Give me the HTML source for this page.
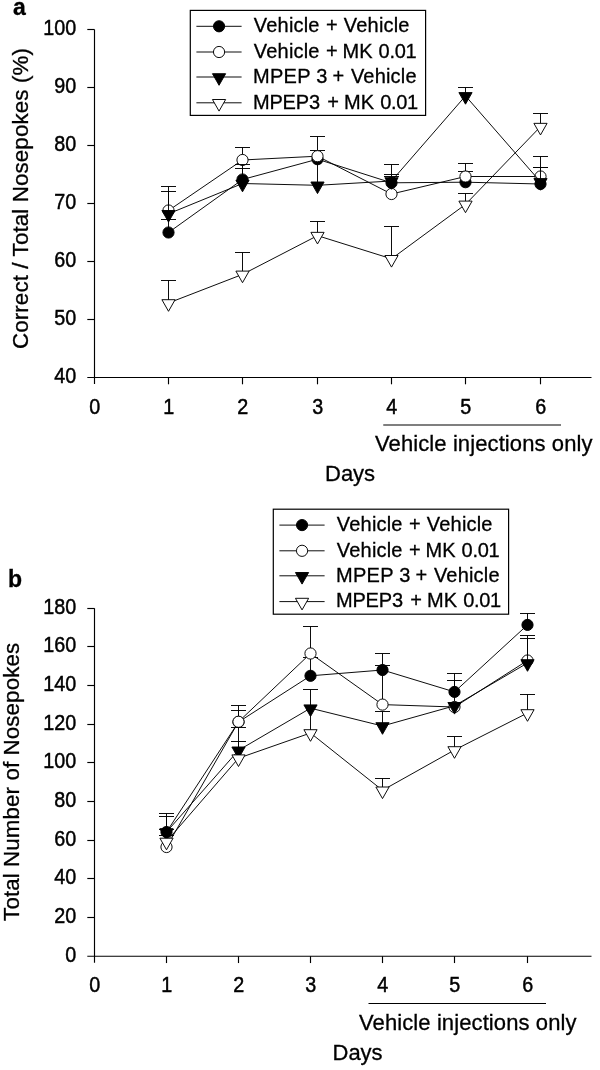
<!DOCTYPE html>
<html><head><meta charset="utf-8"><title>Figure</title>
<style>
html,body{margin:0;padding:0;background:#fff;}
svg text{stroke:#000;stroke-width:0.3px;}
svg{display:block;will-change:transform;filter:grayscale(1);font-family:"Liberation Sans", Arial, sans-serif;fill:#000;}
</style></head>
<body>
<svg width="600" height="1070" viewBox="0 0 600 1070">
<rect x="0" y="0" width="600" height="1070" fill="#fff"/>
<line x1="94.50" y1="29.50" x2="94.50" y2="384.00" stroke="#000" stroke-width="1.15"/>
<line x1="87.30" y1="377.50" x2="591.50" y2="377.50" stroke="#000" stroke-width="1.15"/>
<line x1="87.30" y1="29.50" x2="94.50" y2="29.50" stroke="#000" stroke-width="1.15"/>
<text transform="translate(76.20,35.30) scale(0.94,1.06)" font-size="21" text-anchor="end" style="stroke-width:0.45px">100</text>
<line x1="87.30" y1="87.50" x2="94.50" y2="87.50" stroke="#000" stroke-width="1.15"/>
<text transform="translate(76.20,93.30) scale(0.94,1.06)" font-size="21" text-anchor="end" style="stroke-width:0.45px">90</text>
<line x1="87.30" y1="145.50" x2="94.50" y2="145.50" stroke="#000" stroke-width="1.15"/>
<text transform="translate(76.20,151.30) scale(0.94,1.06)" font-size="21" text-anchor="end" style="stroke-width:0.45px">80</text>
<line x1="87.30" y1="203.50" x2="94.50" y2="203.50" stroke="#000" stroke-width="1.15"/>
<text transform="translate(76.20,209.30) scale(0.94,1.06)" font-size="21" text-anchor="end" style="stroke-width:0.45px">70</text>
<line x1="87.30" y1="261.50" x2="94.50" y2="261.50" stroke="#000" stroke-width="1.15"/>
<text transform="translate(76.20,267.30) scale(0.94,1.06)" font-size="21" text-anchor="end" style="stroke-width:0.45px">60</text>
<line x1="87.30" y1="319.50" x2="94.50" y2="319.50" stroke="#000" stroke-width="1.15"/>
<text transform="translate(76.20,325.30) scale(0.94,1.06)" font-size="21" text-anchor="end" style="stroke-width:0.45px">50</text>
<text transform="translate(76.20,383.30) scale(0.94,1.06)" font-size="21" text-anchor="end" style="stroke-width:0.45px">40</text>
<text transform="translate(94.80,413.50) scale(0.94,1.06)" font-size="21" text-anchor="middle" style="stroke-width:0.45px">0</text>
<line x1="168.50" y1="377.50" x2="168.50" y2="384.30" stroke="#000" stroke-width="1.15"/>
<text transform="translate(168.80,413.50) scale(0.94,1.06)" font-size="21" text-anchor="middle" style="stroke-width:0.45px">1</text>
<line x1="242.50" y1="377.50" x2="242.50" y2="384.30" stroke="#000" stroke-width="1.15"/>
<text transform="translate(242.80,413.50) scale(0.94,1.06)" font-size="21" text-anchor="middle" style="stroke-width:0.45px">2</text>
<line x1="317.50" y1="377.50" x2="317.50" y2="384.30" stroke="#000" stroke-width="1.15"/>
<text transform="translate(317.80,413.50) scale(0.94,1.06)" font-size="21" text-anchor="middle" style="stroke-width:0.45px">3</text>
<line x1="391.50" y1="377.50" x2="391.50" y2="384.30" stroke="#000" stroke-width="1.15"/>
<text transform="translate(391.80,413.50) scale(0.94,1.06)" font-size="21" text-anchor="middle" style="stroke-width:0.45px">4</text>
<line x1="465.50" y1="377.50" x2="465.50" y2="384.30" stroke="#000" stroke-width="1.15"/>
<text transform="translate(465.80,413.50) scale(0.94,1.06)" font-size="21" text-anchor="middle" style="stroke-width:0.45px">5</text>
<line x1="540.50" y1="377.50" x2="540.50" y2="384.30" stroke="#000" stroke-width="1.15"/>
<text transform="translate(540.80,413.50) scale(0.94,1.06)" font-size="21" text-anchor="middle" style="stroke-width:0.45px">6</text>
<polyline points="168.50,232.50 242.50,179.50 317.50,159.20 391.50,182.80 465.50,182.20 540.50,184.00" fill="none" stroke="#000" stroke-width="0.95"/>
<line x1="168.50" y1="232.50" x2="168.50" y2="219.50" stroke="#000" stroke-width="0.95"/>
<line x1="161.00" y1="219.50" x2="176.00" y2="219.50" stroke="#000" stroke-width="0.95"/>
<line x1="242.50" y1="179.50" x2="242.50" y2="168.50" stroke="#000" stroke-width="0.95"/>
<line x1="235.00" y1="168.50" x2="250.00" y2="168.50" stroke="#000" stroke-width="0.95"/>
<line x1="317.50" y1="159.20" x2="317.50" y2="150.50" stroke="#000" stroke-width="0.95"/>
<line x1="310.00" y1="150.50" x2="325.00" y2="150.50" stroke="#000" stroke-width="0.95"/>
<line x1="391.50" y1="182.80" x2="391.50" y2="176.50" stroke="#000" stroke-width="0.95"/>
<line x1="384.00" y1="176.50" x2="399.00" y2="176.50" stroke="#000" stroke-width="0.95"/>
<line x1="465.50" y1="182.20" x2="465.50" y2="171.50" stroke="#000" stroke-width="0.95"/>
<line x1="458.00" y1="171.50" x2="473.00" y2="171.50" stroke="#000" stroke-width="0.95"/>
<line x1="540.50" y1="184.00" x2="540.50" y2="167.50" stroke="#000" stroke-width="0.95"/>
<line x1="533.00" y1="167.50" x2="548.00" y2="167.50" stroke="#000" stroke-width="0.95"/>
<circle cx="168.50" cy="232.50" r="5.6" fill="#000" stroke="#000" stroke-width="0.95"/>
<circle cx="242.50" cy="179.50" r="5.6" fill="#000" stroke="#000" stroke-width="0.95"/>
<circle cx="317.50" cy="159.20" r="5.6" fill="#000" stroke="#000" stroke-width="0.95"/>
<circle cx="391.50" cy="182.80" r="5.6" fill="#000" stroke="#000" stroke-width="0.95"/>
<circle cx="465.50" cy="182.20" r="5.6" fill="#000" stroke="#000" stroke-width="0.95"/>
<circle cx="540.50" cy="184.00" r="5.6" fill="#000" stroke="#000" stroke-width="0.95"/>
<polyline points="168.50,210.50 242.50,160.00 317.50,156.20 391.50,194.00 465.50,176.50 540.50,176.50" fill="none" stroke="#000" stroke-width="0.95"/>
<line x1="168.50" y1="210.50" x2="168.50" y2="186.50" stroke="#000" stroke-width="0.95"/>
<line x1="161.00" y1="186.50" x2="176.00" y2="186.50" stroke="#000" stroke-width="0.95"/>
<line x1="242.50" y1="160.00" x2="242.50" y2="147.50" stroke="#000" stroke-width="0.95"/>
<line x1="235.00" y1="147.50" x2="250.00" y2="147.50" stroke="#000" stroke-width="0.95"/>
<line x1="317.50" y1="156.20" x2="317.50" y2="136.50" stroke="#000" stroke-width="0.95"/>
<line x1="310.00" y1="136.50" x2="325.00" y2="136.50" stroke="#000" stroke-width="0.95"/>
<line x1="391.50" y1="194.00" x2="391.50" y2="174.50" stroke="#000" stroke-width="0.95"/>
<line x1="384.00" y1="174.50" x2="399.00" y2="174.50" stroke="#000" stroke-width="0.95"/>
<line x1="465.50" y1="176.50" x2="465.50" y2="163.50" stroke="#000" stroke-width="0.95"/>
<line x1="458.00" y1="163.50" x2="473.00" y2="163.50" stroke="#000" stroke-width="0.95"/>
<line x1="540.50" y1="176.50" x2="540.50" y2="156.50" stroke="#000" stroke-width="0.95"/>
<line x1="533.00" y1="156.50" x2="548.00" y2="156.50" stroke="#000" stroke-width="0.95"/>
<circle cx="168.50" cy="210.50" r="5.6" fill="#fff" stroke="#000" stroke-width="0.95"/>
<circle cx="242.50" cy="160.00" r="5.6" fill="#fff" stroke="#000" stroke-width="0.95"/>
<circle cx="317.50" cy="156.20" r="5.6" fill="#fff" stroke="#000" stroke-width="0.95"/>
<circle cx="391.50" cy="194.00" r="5.6" fill="#fff" stroke="#000" stroke-width="0.95"/>
<circle cx="465.50" cy="176.50" r="5.6" fill="#fff" stroke="#000" stroke-width="0.95"/>
<circle cx="540.50" cy="176.50" r="5.6" fill="#fff" stroke="#000" stroke-width="0.95"/>
<polyline points="168.50,213.80 242.50,183.50 317.50,185.30 391.50,181.00 465.50,95.90 540.50,181.90" fill="none" stroke="#000" stroke-width="0.95"/>
<line x1="168.50" y1="213.80" x2="168.50" y2="191.50" stroke="#000" stroke-width="0.95"/>
<line x1="161.00" y1="191.50" x2="176.00" y2="191.50" stroke="#000" stroke-width="0.95"/>
<line x1="242.50" y1="183.50" x2="242.50" y2="164.50" stroke="#000" stroke-width="0.95"/>
<line x1="235.00" y1="164.50" x2="250.00" y2="164.50" stroke="#000" stroke-width="0.95"/>
<line x1="317.50" y1="185.30" x2="317.50" y2="163.50" stroke="#000" stroke-width="0.95"/>
<line x1="391.50" y1="181.00" x2="391.50" y2="164.50" stroke="#000" stroke-width="0.95"/>
<line x1="384.00" y1="164.50" x2="399.00" y2="164.50" stroke="#000" stroke-width="0.95"/>
<line x1="465.50" y1="95.90" x2="465.50" y2="87.50" stroke="#000" stroke-width="0.95"/>
<line x1="458.00" y1="87.50" x2="473.00" y2="87.50" stroke="#000" stroke-width="0.95"/>
<line x1="540.50" y1="181.90" x2="540.50" y2="167.50" stroke="#000" stroke-width="0.95"/>
<line x1="533.00" y1="167.50" x2="548.00" y2="167.50" stroke="#000" stroke-width="0.95"/>
<polygon points="161.90,210.50 175.10,210.50 168.50,222.10" fill="#000" stroke="#000" stroke-width="0.95" stroke-linejoin="miter"/>
<polygon points="235.90,180.20 249.10,180.20 242.50,191.80" fill="#000" stroke="#000" stroke-width="0.95" stroke-linejoin="miter"/>
<polygon points="310.90,182.00 324.10,182.00 317.50,193.60" fill="#000" stroke="#000" stroke-width="0.95" stroke-linejoin="miter"/>
<polygon points="384.90,177.70 398.10,177.70 391.50,189.30" fill="#000" stroke="#000" stroke-width="0.95" stroke-linejoin="miter"/>
<polygon points="458.90,92.60 472.10,92.60 465.50,104.20" fill="#000" stroke="#000" stroke-width="0.95" stroke-linejoin="miter"/>
<polygon points="533.90,178.60 547.10,178.60 540.50,190.20" fill="#000" stroke="#000" stroke-width="0.95" stroke-linejoin="miter"/>
<polyline points="168.50,303.00 242.50,274.40 317.50,235.65 391.50,258.80 465.50,204.40 540.50,126.65" fill="none" stroke="#000" stroke-width="0.95"/>
<line x1="168.50" y1="303.00" x2="168.50" y2="280.50" stroke="#000" stroke-width="0.95"/>
<line x1="161.00" y1="280.50" x2="176.00" y2="280.50" stroke="#000" stroke-width="0.95"/>
<line x1="242.50" y1="274.40" x2="242.50" y2="252.50" stroke="#000" stroke-width="0.95"/>
<line x1="235.00" y1="252.50" x2="250.00" y2="252.50" stroke="#000" stroke-width="0.95"/>
<line x1="317.50" y1="235.65" x2="317.50" y2="221.50" stroke="#000" stroke-width="0.95"/>
<line x1="310.00" y1="221.50" x2="325.00" y2="221.50" stroke="#000" stroke-width="0.95"/>
<line x1="391.50" y1="258.80" x2="391.50" y2="226.50" stroke="#000" stroke-width="0.95"/>
<line x1="384.00" y1="226.50" x2="399.00" y2="226.50" stroke="#000" stroke-width="0.95"/>
<line x1="465.50" y1="204.40" x2="465.50" y2="193.50" stroke="#000" stroke-width="0.95"/>
<line x1="458.00" y1="193.50" x2="473.00" y2="193.50" stroke="#000" stroke-width="0.95"/>
<line x1="540.50" y1="126.65" x2="540.50" y2="113.50" stroke="#000" stroke-width="0.95"/>
<line x1="533.00" y1="113.50" x2="548.00" y2="113.50" stroke="#000" stroke-width="0.95"/>
<polygon points="161.90,299.70 175.10,299.70 168.50,311.30" fill="#fff" stroke="#000" stroke-width="0.95" stroke-linejoin="miter"/>
<polygon points="235.90,271.10 249.10,271.10 242.50,282.70" fill="#fff" stroke="#000" stroke-width="0.95" stroke-linejoin="miter"/>
<polygon points="310.90,232.35 324.10,232.35 317.50,243.95" fill="#fff" stroke="#000" stroke-width="0.95" stroke-linejoin="miter"/>
<polygon points="384.90,255.50 398.10,255.50 391.50,267.10" fill="#fff" stroke="#000" stroke-width="0.95" stroke-linejoin="miter"/>
<polygon points="458.90,201.10 472.10,201.10 465.50,212.70" fill="#fff" stroke="#000" stroke-width="0.95" stroke-linejoin="miter"/>
<polygon points="533.90,123.35 547.10,123.35 540.50,134.95" fill="#fff" stroke="#000" stroke-width="0.95" stroke-linejoin="miter"/>
<rect x="190.30" y="10.40" width="235.3" height="105.0" fill="#fff" stroke="#000" stroke-width="1.2"/>
<line x1="196.40" y1="26.30" x2="241.60" y2="26.30" stroke="#000" stroke-width="0.95"/>
<circle cx="219.05" cy="26.30" r="5.6" fill="#000" stroke="#000" stroke-width="0.95"/>
<text y="32.20" font-size="20" xml:space="preserve"><tspan x="253.80" letter-spacing="0.2">Vehicle</tspan> <tspan x="325.90" letter-spacing="0">+</tspan> <tspan x="343.80" letter-spacing="0.2">Vehicle</tspan></text>
<line x1="196.40" y1="52.00" x2="241.60" y2="52.00" stroke="#000" stroke-width="0.95"/>
<circle cx="219.05" cy="52.00" r="5.6" fill="#fff" stroke="#000" stroke-width="0.95"/>
<text y="57.70" font-size="20" xml:space="preserve"><tspan x="253.80" letter-spacing="0.2">Vehicle</tspan> <tspan x="325.90" letter-spacing="0">+</tspan> <tspan x="342.60" letter-spacing="0">MK</tspan> <tspan x="378.60" letter-spacing="-0.3">0.01</tspan></text>
<line x1="196.40" y1="77.00" x2="241.60" y2="77.00" stroke="#000" stroke-width="0.95"/>
<polygon points="212.45,73.70 225.65,73.70 219.05,85.30" fill="#000" stroke="#000" stroke-width="0.95" stroke-linejoin="miter"/>
<text y="83.20" font-size="20" xml:space="preserve"><tspan x="253.00" letter-spacing="0.3">MPEP</tspan> <tspan x="316.20" letter-spacing="0">3</tspan> <tspan x="332.50" letter-spacing="0">+</tspan> <tspan x="350.90" letter-spacing="0.2">Vehicle</tspan></text>
<line x1="196.40" y1="102.80" x2="241.60" y2="102.80" stroke="#000" stroke-width="0.95"/>
<polygon points="212.45,99.50 225.65,99.50 219.05,111.10" fill="#fff" stroke="#000" stroke-width="0.95" stroke-linejoin="miter"/>
<text y="108.50" font-size="20" xml:space="preserve"><tspan x="253.00" letter-spacing="-0.2">MPEP3</tspan> <tspan x="327.20" letter-spacing="0">+</tspan> <tspan x="344.00" letter-spacing="0">MK</tspan> <tspan x="380.20" letter-spacing="-0.3">0.01</tspan></text>
<line x1="383.25" y1="425.00" x2="561.00" y2="425.00" stroke="#000" stroke-width="1.15"/>
<text x="375.00" y="451.25" font-size="22" text-anchor="start" font-weight="normal" textLength="217.5" lengthAdjust="spacing">Vehicle injections only</text>
<text x="325.00" y="481.25" font-size="22" text-anchor="start" font-weight="normal" >Days</text>
<text transform="translate(28.30,198.60) rotate(-90)" font-size="22.3" text-anchor="middle" textLength="301" lengthAdjust="spacing">Correct / Total Nosepokes (%)</text>
<text x="13.00" y="14.50" font-size="23" text-anchor="start" font-weight="bold" >a</text>
<line x1="94.50" y1="608.20" x2="94.50" y2="962.75" stroke="#000" stroke-width="1.15"/>
<line x1="87.30" y1="956.25" x2="591.50" y2="956.25" stroke="#000" stroke-width="1.15"/>
<line x1="87.30" y1="608.50" x2="94.50" y2="608.50" stroke="#000" stroke-width="1.15"/>
<text transform="translate(76.20,614.30) scale(0.94,1.06)" font-size="21" text-anchor="end" style="stroke-width:0.45px">180</text>
<line x1="87.30" y1="646.50" x2="94.50" y2="646.50" stroke="#000" stroke-width="1.15"/>
<text transform="translate(76.20,652.30) scale(0.94,1.06)" font-size="21" text-anchor="end" style="stroke-width:0.45px">160</text>
<line x1="87.30" y1="685.50" x2="94.50" y2="685.50" stroke="#000" stroke-width="1.15"/>
<text transform="translate(76.20,691.30) scale(0.94,1.06)" font-size="21" text-anchor="end" style="stroke-width:0.45px">140</text>
<line x1="87.30" y1="724.50" x2="94.50" y2="724.50" stroke="#000" stroke-width="1.15"/>
<text transform="translate(76.20,730.30) scale(0.94,1.06)" font-size="21" text-anchor="end" style="stroke-width:0.45px">120</text>
<line x1="87.30" y1="762.50" x2="94.50" y2="762.50" stroke="#000" stroke-width="1.15"/>
<text transform="translate(76.20,768.30) scale(0.94,1.06)" font-size="21" text-anchor="end" style="stroke-width:0.45px">100</text>
<line x1="87.30" y1="801.50" x2="94.50" y2="801.50" stroke="#000" stroke-width="1.15"/>
<text transform="translate(76.20,807.30) scale(0.94,1.06)" font-size="21" text-anchor="end" style="stroke-width:0.45px">80</text>
<line x1="87.30" y1="840.50" x2="94.50" y2="840.50" stroke="#000" stroke-width="1.15"/>
<text transform="translate(76.20,846.30) scale(0.94,1.06)" font-size="21" text-anchor="end" style="stroke-width:0.45px">60</text>
<line x1="87.30" y1="878.50" x2="94.50" y2="878.50" stroke="#000" stroke-width="1.15"/>
<text transform="translate(76.20,884.30) scale(0.94,1.06)" font-size="21" text-anchor="end" style="stroke-width:0.45px">40</text>
<line x1="87.30" y1="917.50" x2="94.50" y2="917.50" stroke="#000" stroke-width="1.15"/>
<text transform="translate(76.20,923.30) scale(0.94,1.06)" font-size="21" text-anchor="end" style="stroke-width:0.45px">20</text>
<text transform="translate(76.20,962.30) scale(0.94,1.06)" font-size="21" text-anchor="end" style="stroke-width:0.45px">0</text>
<text transform="translate(94.80,992.25) scale(0.94,1.06)" font-size="21" text-anchor="middle" style="stroke-width:0.45px">0</text>
<line x1="166.50" y1="956.25" x2="166.50" y2="963.05" stroke="#000" stroke-width="1.15"/>
<text transform="translate(166.80,992.25) scale(0.94,1.06)" font-size="21" text-anchor="middle" style="stroke-width:0.45px">1</text>
<line x1="238.50" y1="956.25" x2="238.50" y2="963.05" stroke="#000" stroke-width="1.15"/>
<text transform="translate(238.80,992.25) scale(0.94,1.06)" font-size="21" text-anchor="middle" style="stroke-width:0.45px">2</text>
<line x1="310.50" y1="956.25" x2="310.50" y2="963.05" stroke="#000" stroke-width="1.15"/>
<text transform="translate(310.80,992.25) scale(0.94,1.06)" font-size="21" text-anchor="middle" style="stroke-width:0.45px">3</text>
<line x1="382.50" y1="956.25" x2="382.50" y2="963.05" stroke="#000" stroke-width="1.15"/>
<text transform="translate(382.80,992.25) scale(0.94,1.06)" font-size="21" text-anchor="middle" style="stroke-width:0.45px">4</text>
<line x1="454.50" y1="956.25" x2="454.50" y2="963.05" stroke="#000" stroke-width="1.15"/>
<text transform="translate(454.80,992.25) scale(0.94,1.06)" font-size="21" text-anchor="middle" style="stroke-width:0.45px">5</text>
<line x1="527.50" y1="956.25" x2="527.50" y2="963.05" stroke="#000" stroke-width="1.15"/>
<text transform="translate(527.80,992.25) scale(0.94,1.06)" font-size="21" text-anchor="middle" style="stroke-width:0.45px">6</text>
<polyline points="166.50,832.00 238.50,722.00 310.50,675.80 382.50,670.00 454.50,691.90 527.50,624.90" fill="none" stroke="#000" stroke-width="0.95"/>
<line x1="166.50" y1="832.00" x2="166.50" y2="813.50" stroke="#000" stroke-width="0.95"/>
<line x1="159.00" y1="813.50" x2="174.00" y2="813.50" stroke="#000" stroke-width="0.95"/>
<line x1="238.50" y1="722.00" x2="238.50" y2="705.50" stroke="#000" stroke-width="0.95"/>
<line x1="231.00" y1="705.50" x2="246.00" y2="705.50" stroke="#000" stroke-width="0.95"/>
<line x1="310.50" y1="675.80" x2="310.50" y2="657.50" stroke="#000" stroke-width="0.95"/>
<line x1="303.00" y1="657.50" x2="318.00" y2="657.50" stroke="#000" stroke-width="0.95"/>
<line x1="382.50" y1="670.00" x2="382.50" y2="653.50" stroke="#000" stroke-width="0.95"/>
<line x1="375.00" y1="653.50" x2="390.00" y2="653.50" stroke="#000" stroke-width="0.95"/>
<line x1="454.50" y1="691.90" x2="454.50" y2="673.50" stroke="#000" stroke-width="0.95"/>
<line x1="447.00" y1="673.50" x2="462.00" y2="673.50" stroke="#000" stroke-width="0.95"/>
<line x1="527.50" y1="624.90" x2="527.50" y2="613.50" stroke="#000" stroke-width="0.95"/>
<line x1="520.00" y1="613.50" x2="535.00" y2="613.50" stroke="#000" stroke-width="0.95"/>
<circle cx="166.50" cy="832.00" r="5.6" fill="#000" stroke="#000" stroke-width="0.95"/>
<circle cx="238.50" cy="722.00" r="5.6" fill="#000" stroke="#000" stroke-width="0.95"/>
<circle cx="310.50" cy="675.80" r="5.6" fill="#000" stroke="#000" stroke-width="0.95"/>
<circle cx="382.50" cy="670.00" r="5.6" fill="#000" stroke="#000" stroke-width="0.95"/>
<circle cx="454.50" cy="691.90" r="5.6" fill="#000" stroke="#000" stroke-width="0.95"/>
<circle cx="527.50" cy="624.90" r="5.6" fill="#000" stroke="#000" stroke-width="0.95"/>
<polyline points="166.50,847.00 238.50,721.75 310.50,653.50 382.50,704.60 454.50,707.00 527.50,660.50" fill="none" stroke="#000" stroke-width="0.95"/>
<line x1="166.50" y1="847.00" x2="166.50" y2="835.50" stroke="#000" stroke-width="0.95"/>
<line x1="159.00" y1="835.50" x2="174.00" y2="835.50" stroke="#000" stroke-width="0.95"/>
<line x1="238.50" y1="721.75" x2="238.50" y2="710.50" stroke="#000" stroke-width="0.95"/>
<line x1="231.00" y1="710.50" x2="246.00" y2="710.50" stroke="#000" stroke-width="0.95"/>
<line x1="310.50" y1="653.50" x2="310.50" y2="626.50" stroke="#000" stroke-width="0.95"/>
<line x1="303.00" y1="626.50" x2="318.00" y2="626.50" stroke="#000" stroke-width="0.95"/>
<line x1="382.50" y1="704.60" x2="382.50" y2="665.50" stroke="#000" stroke-width="0.95"/>
<line x1="375.00" y1="665.50" x2="390.00" y2="665.50" stroke="#000" stroke-width="0.95"/>
<line x1="454.50" y1="707.00" x2="454.50" y2="680.50" stroke="#000" stroke-width="0.95"/>
<line x1="447.00" y1="680.50" x2="462.00" y2="680.50" stroke="#000" stroke-width="0.95"/>
<line x1="527.50" y1="660.50" x2="527.50" y2="635.50" stroke="#000" stroke-width="0.95"/>
<line x1="520.00" y1="635.50" x2="535.00" y2="635.50" stroke="#000" stroke-width="0.95"/>
<circle cx="166.50" cy="847.00" r="5.6" fill="#fff" stroke="#000" stroke-width="0.95"/>
<circle cx="238.50" cy="721.75" r="5.6" fill="#fff" stroke="#000" stroke-width="0.95"/>
<circle cx="310.50" cy="653.50" r="5.6" fill="#fff" stroke="#000" stroke-width="0.95"/>
<circle cx="382.50" cy="704.60" r="5.6" fill="#fff" stroke="#000" stroke-width="0.95"/>
<circle cx="454.50" cy="707.00" r="5.6" fill="#fff" stroke="#000" stroke-width="0.95"/>
<circle cx="527.50" cy="660.50" r="5.6" fill="#fff" stroke="#000" stroke-width="0.95"/>
<polyline points="166.50,832.00 238.50,750.30 310.50,708.20 382.50,726.00 454.50,705.80 527.50,663.00" fill="none" stroke="#000" stroke-width="0.95"/>
<line x1="166.50" y1="832.00" x2="166.50" y2="816.50" stroke="#000" stroke-width="0.95"/>
<line x1="159.00" y1="816.50" x2="174.00" y2="816.50" stroke="#000" stroke-width="0.95"/>
<line x1="238.50" y1="750.30" x2="238.50" y2="727.50" stroke="#000" stroke-width="0.95"/>
<line x1="231.00" y1="727.50" x2="246.00" y2="727.50" stroke="#000" stroke-width="0.95"/>
<line x1="310.50" y1="708.20" x2="310.50" y2="689.50" stroke="#000" stroke-width="0.95"/>
<line x1="303.00" y1="689.50" x2="318.00" y2="689.50" stroke="#000" stroke-width="0.95"/>
<line x1="382.50" y1="726.00" x2="382.50" y2="711.50" stroke="#000" stroke-width="0.95"/>
<line x1="375.00" y1="711.50" x2="390.00" y2="711.50" stroke="#000" stroke-width="0.95"/>
<line x1="527.50" y1="663.00" x2="527.50" y2="638.50" stroke="#000" stroke-width="0.95"/>
<line x1="520.00" y1="638.50" x2="535.00" y2="638.50" stroke="#000" stroke-width="0.95"/>
<polygon points="159.90,828.70 173.10,828.70 166.50,840.30" fill="#000" stroke="#000" stroke-width="0.95" stroke-linejoin="miter"/>
<polygon points="231.90,747.00 245.10,747.00 238.50,758.60" fill="#000" stroke="#000" stroke-width="0.95" stroke-linejoin="miter"/>
<polygon points="303.90,704.90 317.10,704.90 310.50,716.50" fill="#000" stroke="#000" stroke-width="0.95" stroke-linejoin="miter"/>
<polygon points="375.90,722.70 389.10,722.70 382.50,734.30" fill="#000" stroke="#000" stroke-width="0.95" stroke-linejoin="miter"/>
<polygon points="447.90,702.50 461.10,702.50 454.50,714.10" fill="#000" stroke="#000" stroke-width="0.95" stroke-linejoin="miter"/>
<polygon points="520.90,659.70 534.10,659.70 527.50,671.30" fill="#000" stroke="#000" stroke-width="0.95" stroke-linejoin="miter"/>
<polyline points="166.50,841.50 238.50,758.20 310.50,733.00 382.50,790.30 454.50,750.00 527.50,713.00" fill="none" stroke="#000" stroke-width="0.95"/>
<line x1="166.50" y1="841.50" x2="166.50" y2="829.50" stroke="#000" stroke-width="0.95"/>
<line x1="159.00" y1="829.50" x2="174.00" y2="829.50" stroke="#000" stroke-width="0.95"/>
<line x1="238.50" y1="758.20" x2="238.50" y2="741.50" stroke="#000" stroke-width="0.95"/>
<line x1="231.00" y1="741.50" x2="246.00" y2="741.50" stroke="#000" stroke-width="0.95"/>
<line x1="310.50" y1="733.00" x2="310.50" y2="714.50" stroke="#000" stroke-width="0.95"/>
<line x1="382.50" y1="790.30" x2="382.50" y2="778.50" stroke="#000" stroke-width="0.95"/>
<line x1="375.00" y1="778.50" x2="390.00" y2="778.50" stroke="#000" stroke-width="0.95"/>
<line x1="454.50" y1="750.00" x2="454.50" y2="736.50" stroke="#000" stroke-width="0.95"/>
<line x1="447.00" y1="736.50" x2="462.00" y2="736.50" stroke="#000" stroke-width="0.95"/>
<line x1="527.50" y1="713.00" x2="527.50" y2="694.50" stroke="#000" stroke-width="0.95"/>
<line x1="520.00" y1="694.50" x2="535.00" y2="694.50" stroke="#000" stroke-width="0.95"/>
<polygon points="159.90,838.20 173.10,838.20 166.50,849.80" fill="#fff" stroke="#000" stroke-width="0.95" stroke-linejoin="miter"/>
<polygon points="231.90,754.90 245.10,754.90 238.50,766.50" fill="#fff" stroke="#000" stroke-width="0.95" stroke-linejoin="miter"/>
<polygon points="303.90,729.70 317.10,729.70 310.50,741.30" fill="#fff" stroke="#000" stroke-width="0.95" stroke-linejoin="miter"/>
<polygon points="375.90,787.00 389.10,787.00 382.50,798.60" fill="#fff" stroke="#000" stroke-width="0.95" stroke-linejoin="miter"/>
<polygon points="447.90,746.70 461.10,746.70 454.50,758.30" fill="#fff" stroke="#000" stroke-width="0.95" stroke-linejoin="miter"/>
<polygon points="520.90,709.70 534.10,709.70 527.50,721.30" fill="#fff" stroke="#000" stroke-width="0.95" stroke-linejoin="miter"/>
<rect x="273.30" y="509.20" width="235.3" height="105.0" fill="#fff" stroke="#000" stroke-width="1.2"/>
<line x1="279.40" y1="525.10" x2="324.60" y2="525.10" stroke="#000" stroke-width="0.95"/>
<circle cx="302.05" cy="525.10" r="5.6" fill="#000" stroke="#000" stroke-width="0.95"/>
<text y="531.00" font-size="20" xml:space="preserve"><tspan x="336.80" letter-spacing="0.2">Vehicle</tspan> <tspan x="408.90" letter-spacing="0">+</tspan> <tspan x="426.80" letter-spacing="0.2">Vehicle</tspan></text>
<line x1="279.40" y1="550.80" x2="324.60" y2="550.80" stroke="#000" stroke-width="0.95"/>
<circle cx="302.05" cy="550.80" r="5.6" fill="#fff" stroke="#000" stroke-width="0.95"/>
<text y="556.50" font-size="20" xml:space="preserve"><tspan x="336.80" letter-spacing="0.2">Vehicle</tspan> <tspan x="408.90" letter-spacing="0">+</tspan> <tspan x="425.60" letter-spacing="0">MK</tspan> <tspan x="461.60" letter-spacing="-0.3">0.01</tspan></text>
<line x1="279.40" y1="575.80" x2="324.60" y2="575.80" stroke="#000" stroke-width="0.95"/>
<polygon points="295.45,572.50 308.65,572.50 302.05,584.10" fill="#000" stroke="#000" stroke-width="0.95" stroke-linejoin="miter"/>
<text y="582.00" font-size="20" xml:space="preserve"><tspan x="336.00" letter-spacing="0.3">MPEP</tspan> <tspan x="399.20" letter-spacing="0">3</tspan> <tspan x="415.50" letter-spacing="0">+</tspan> <tspan x="433.90" letter-spacing="0.2">Vehicle</tspan></text>
<line x1="279.40" y1="601.60" x2="324.60" y2="601.60" stroke="#000" stroke-width="0.95"/>
<polygon points="295.45,598.30 308.65,598.30 302.05,609.90" fill="#fff" stroke="#000" stroke-width="0.95" stroke-linejoin="miter"/>
<text y="607.30" font-size="20" xml:space="preserve"><tspan x="336.00" letter-spacing="-0.2">MPEP3</tspan> <tspan x="410.20" letter-spacing="0">+</tspan> <tspan x="427.00" letter-spacing="0">MK</tspan> <tspan x="463.20" letter-spacing="-0.3">0.01</tspan></text>
<line x1="368.50" y1="1003.50" x2="546.00" y2="1003.50" stroke="#000" stroke-width="1.15"/>
<text x="359.00" y="1030.00" font-size="22" text-anchor="start" font-weight="normal" textLength="217.5" lengthAdjust="spacing">Vehicle injections only</text>
<text x="332.50" y="1060.00" font-size="22" text-anchor="start" font-weight="normal" >Days</text>
<text transform="translate(18.50,781.90) rotate(-90)" font-size="22.3" text-anchor="middle" textLength="278" lengthAdjust="spacing">Total Number of Nosepokes</text>
<text x="8.00" y="587.00" font-size="23" text-anchor="start" font-weight="bold" >b</text>
</svg>
</body></html>
